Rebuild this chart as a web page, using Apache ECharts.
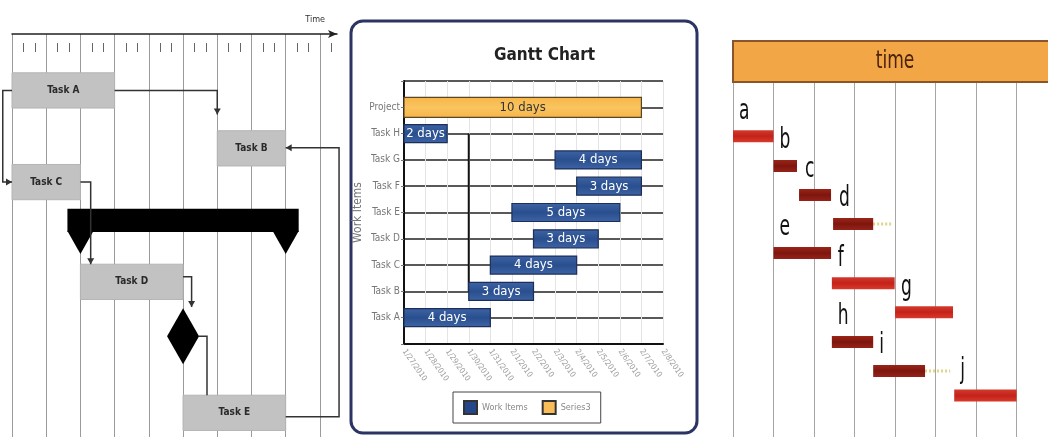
<!DOCTYPE html>
<html>
<head>
<meta charset="utf-8">
<script src="https://cdn.jsdelivr.net/npm/echarts@6/dist/echarts.min.js"></script>
<style>
  html, body { margin: 0; padding: 0; background: #fff; }
  #main { width: 1048px; height: 437px; }
</style>
</head>
<body>
<div id="main"></div>
<script>
// ---- panel 1 : task network over time ----
const flowTasks = ['Task A', 'Task B', 'Task C', 'Task D', 'Task E'];
const flowStart = [0, 6, 0, 2, 5];
const flowEnd = [3, 8, 2, 5, 8];
const flowRow = [5.6, 11.35, 14.7, 24.6, 37.6];
const summaryBar = [2, 8, 18.5];      // start, end, row
const decisionPoint = [5, 30.0];      // time, row
const flowLinks = [
  [[3, 5.6], [6, 5.6], [6, 8.0]],
  [[0, 5.6], [-0.27, 5.6], [-0.27, 14.7], [0, 14.7]],
  [[2, 14.7], [2.3, 14.7], [2.3, 22.85]],
  [[5, 24.1], [5.25, 24.1], [5.25, 27.1]],
  [[5.46, 30.0], [5.7, 30.0], [5.7, 35.85]],
  [[8, 38.0], [9.56, 38.0], [9.56, 11.3], [8, 11.3]]
];
const flowLinkArrow = [true, true, true, true, false, true];

// ---- panel 2 : gantt chart ----
const ganttItems = ['Task A', 'Task B', 'Task C', 'Task D', 'Task E', 'Task F', 'Task G', 'Task H', 'Project'];
const ganttStart = [0, 3, 4, 6, 5, 8, 7, 0, 0];
const ganttDays = [4, 3, 4, 3, 5, 3, 4, 2, 11];
const ganttLabels = ['4 days', '3 days', '4 days', '3 days', '5 days', '3 days', '4 days', '2 days', '10 days'];
const dateTicks = ['1/27/2010', '1/28/2010', '1/29/2010', '1/30/2010', '1/31/2010', '2/1/2010', '2/2/2010',
  '2/3/2010', '2/4/2010', '2/5/2010', '2/6/2010', '2/7/2010', '2/8/2010'];
const hLink = [[3, 8], [3, 2]];

// ---- panel 3 : activities a..j ----
const actNames = ['a', 'b', 'c', 'd', 'e', 'f', 'g', 'h', 'i', 'j'];
const actStart = [0, 1, 1.63, 2.47, 1, 2.44, 4, 2.44, 3.46, 5.46];
const actEnd = [1, 1.58, 2.42, 3.46, 2.42, 3.99, 5.43, 3.46, 4.74, 7.0];
const actFloatEnd = [0, 0, 0, 3.95, 0, 0, 0, 0, 5.36, 0];
const actRow = [1.83, 2.84, 3.82, 4.8, 5.78, 6.8, 7.78, 8.79, 9.77, 10.6];
const actCritical = [true, false, false, false, false, true, true, false, false, true];

const NARROW = "'Liberation Sans Narrow','DejaVu Sans Condensed','Arial Narrow',sans-serif";

const chart = echarts.init(document.getElementById('main'), null, { renderer: 'canvas' });

function arrowHead(a, b, len, half) {
  const dx = b[0] - a[0], dy = b[1] - a[1];
  const d = Math.sqrt(dx * dx + dy * dy) || 1;
  const ux = dx / d, uy = dy / d;
  return [
    [b[0], b[1]],
    [b[0] - ux * len - uy * half, b[1] - uy * len + ux * half],
    [b[0] - ux * len + uy * half, b[1] - uy * len - ux * half]
  ];
}

function flowBoxItem(params, api) {
  const i = params.dataIndex;
  const p0 = api.coord([flowStart[i], flowRow[i]]);
  const p1 = api.coord([flowEnd[i], flowRow[i]]);
  const h = api.size([0, 3.5])[1];
  return {
    type: 'group',
    children: [
      { type: 'rect', shape: { x: p0[0], y: p0[1] - h / 2, width: p1[0] - p0[0], height: h },
        style: { fill: '#c2c2c2', stroke: '#b4b4b4', lineWidth: 1 } },
      { type: 'text', style: { text: flowTasks[i], x: (p0[0] + p1[0]) / 2, y: p0[1], align: 'center',
        verticalAlign: 'middle', font: 'bold 10px ' + NARROW, fill: '#2a2a2a' } }
    ]
  };
}

function summaryItem(params, api) {
  const p0 = api.coord([summaryBar[0], summaryBar[2]]);
  const p1 = api.coord([summaryBar[1], summaryBar[2]]);
  const h = api.size([0, 2.3])[1];
  const top = p0[1] - h / 2, bot = p0[1] + h / 2;
  const c = api.coord(decisionPoint);
  const style = { fill: '#000' };
  return {
    type: 'group',
    children: [
      { type: 'rect', shape: { x: p0[0] - 13, y: top, width: p1[0] - p0[0] + 26, height: h }, style },
      { type: 'polygon', shape: { points: [[p0[0] - 13, bot - 1], [p0[0] + 13, bot - 1], [p0[0], bot + 22]] }, style },
      { type: 'polygon', shape: { points: [[p1[0] - 13, bot - 1], [p1[0] + 13, bot - 1], [p1[0], bot + 22]] }, style },
      { type: 'polygon', shape: { points: [[c[0], c[1] - 28], [c[0] + 16, c[1]], [c[0], c[1] + 28], [c[0] - 16, c[1]]] }, style }
    ]
  };
}

function linkItem(params, api) {
  const i = params.dataIndex;
  const pts = flowLinks[i].map(p => api.coord(p));
  const children = [
    { type: 'polyline', shape: { points: pts }, style: { stroke: '#333', lineWidth: 1.5, fill: null } }
  ];
  if (flowLinkArrow[i]) {
    children.push({ type: 'polygon', shape: { points: arrowHead(pts[pts.length - 2], pts[pts.length - 1], 6, 3.5) },
      style: { fill: '#333' } });
  }
  return { type: 'group', children };
}

function ganttRender(fillTop, fillBot, stroke, textColor, barH) {
  return function (params, api) {
    const i = api.value(3);
    const p0 = api.coord([api.value(0), api.value(2)]);
    const p1 = api.coord([api.value(1), api.value(2)]);
    return {
      type: 'group',
      children: [
        { type: 'rect', shape: { x: p0[0], y: p0[1] - barH / 2, width: p1[0] - p0[0], height: barH },
          style: { fill: new echarts.graphic.LinearGradient(0, 0, 0, 1, [
            { offset: 0, color: fillTop }, { offset: 0.5, color: fillBot }, { offset: 1, color: fillTop }]),
            stroke, lineWidth: 1.2 } },
        { type: 'text', style: { text: ganttLabels[i], x: (p0[0] + p1[0]) / 2, y: p0[1], align: 'center',
          verticalAlign: 'middle', font: '13px ' + NARROW, fill: textColor } }
      ]
    };
  };
}

function activityItem(params, api) {
  const i = params.dataIndex;
  const p0 = api.coord([actStart[i], actRow[i]]);
  const p1 = api.coord([actEnd[i], actRow[i]]);
  const h = 12;
  const children = [];
  if (actFloatEnd[i] > actEnd[i]) {
    const p2 = api.coord([actFloatEnd[i], actRow[i]]);
    children.push({ type: 'line', shape: { x1: p1[0], y1: p1[1], x2: p2[0], y2: p2[1] },
      style: { stroke: '#e2d489', lineWidth: 3, lineDash: [2, 2] } });
  }
  const crit = actCritical[i];
  children.push({ type: 'rect', shape: { x: p0[0], y: p0[1] - h / 2, width: p1[0] - p0[0], height: h },
    style: { fill: new echarts.graphic.LinearGradient(0, 0, 0, 1, [
      { offset: 0, color: crit ? '#d23a2c' : '#9a2418' }, { offset: 0.5, color: crit ? '#c4221a' : '#7e160e' },
      { offset: 1, color: crit ? '#d83a2a' : '#96221a' }]) } });
  children.push({ type: 'text', x: p0[0] + 6, y: p0[1] - h / 2 - 5, scaleY: 1.45,
    style: { text: actNames[i], x: 0, y: 0, align: 'left', verticalAlign: 'bottom',
      font: '19px ' + NARROW, fill: '#111' } });
  return { type: 'group', children };
}

const option = {
  animation: false,
  backgroundColor: '#fff',
  title: {
    text: 'Gantt Chart', left: 489, top: 42,
    textStyle: { fontSize: 17, fontWeight: 'bold', color: '#222', fontFamily: NARROW }
  },
  legend: {
    data: ['Work Items', 'Series3'],
    left: 453, top: 392, orient: 'horizontal',
    borderColor: '#444', borderWidth: 1, padding: [8, 10],
    itemWidth: 13, itemHeight: 13, itemGap: 14, icon: 'rect',
    textStyle: { fontSize: 9, color: '#888', fontFamily: NARROW }
  },
  graphic: [
    { type: 'rect', z: -10, shape: { x: 351, y: 21, width: 346, height: 412, r: 12 },
      style: { fill: '#fff', stroke: '#2c3463', lineWidth: 3 } },
    { type: 'rect', z: 10, shape: { x: 733, y: 41, width: 320, height: 41 },
      style: { fill: '#f2a646', stroke: '#8a5529', lineWidth: 2 } },
    { type: 'text', z: 11, x: 895, y: 62, scaleY: 1.3,
      style: { text: 'time', align: 'center', verticalAlign: 'middle', font: '19px ' + NARROW, fill: '#4a220e' } }
  ],
  grid: [
    { left: 12, top: 34, width: 325, height: 403, outerBoundsMode: 'none' },
    { left: 404, top: 81, width: 259, height: 263, outerBoundsMode: 'none' },
    { left: 733, top: 82, width: 314, height: 355, outerBoundsMode: 'none' }
  ],
  xAxis: [
    { gridIndex: 0, type: 'value', position: 'top', min: 0, max: 9.5, interval: 1,
      name: 'Time', nameLocation: 'end', nameGap: -12,
      nameTextStyle: { align: 'right', verticalAlign: 'bottom', padding: [0, 0, 10, 0], fontSize: 9, color: '#333', fontFamily: NARROW },
      axisLine: { show: true, symbol: ['none', 'arrow'], symbolSize: [6, 9], lineStyle: { color: '#222', width: 1.5 } },
      axisTick: { show: false }, axisLabel: { show: false },
      splitLine: { show: true, showMaxLine: false, lineStyle: { color: '#9a9a9a', width: 1 } } },
    { gridIndex: 0, type: 'value', position: 'top', offset: -18, min: 0, max: 9.5, interval: 1,
      axisLine: { show: false }, axisTick: { show: false }, axisLabel: { show: false }, splitLine: { show: false },
      minorTick: { show: true, splitNumber: 3, length: 9, lineStyle: { color: '#666', width: 1 } } },
    { gridIndex: 1, type: 'value', min: 0, max: 12, interval: 1,
      axisLine: { show: true, lineStyle: { color: '#111', width: 2 } },
      axisTick: { show: false },
      axisLabel: { show: true, rotate: -55, fontSize: 8, color: '#a0a0a0', margin: 6, fontFamily: NARROW,
        formatter: v => dateTicks[Math.round(v)] || '' },
      splitLine: { show: true, lineStyle: { color: '#e4e4e4', width: 1 } } },
    { gridIndex: 2, type: 'value', min: 0, max: 7.75, interval: 1,
      axisLine: { show: false }, axisTick: { show: false }, axisLabel: { show: false },
      splitLine: { show: true, showMaxLine: false, lineStyle: { color: '#a5a5a5', width: 1 } } }
  ],
  yAxis: [
    { gridIndex: 0, type: 'value', min: 0, max: 40, inverse: true, show: false },
    { gridIndex: 1, type: 'value', min: 0, max: 10, interval: 1,
      name: 'Work Items', nameLocation: 'middle', nameGap: 40, nameRotate: 90,
      nameTextStyle: { fontSize: 12, color: '#777', fontFamily: NARROW },
      axisLine: { show: true, lineStyle: { color: '#111', width: 2 } },
      axisTick: { show: true, length: 3, lineStyle: { color: '#777' } },
      axisLabel: { fontSize: 10, color: '#777', margin: 4, fontFamily: NARROW,
        formatter: v => ganttItems[Math.round(v) - 1] || '' },
      splitLine: { show: true, lineStyle: { color: '#222', width: 1.5 } } },
    { gridIndex: 2, type: 'value', min: 0, max: 12, inverse: true, show: false }
  ],
  series: [
    { type: 'custom', name: 'tasks', xAxisIndex: 0, yAxisIndex: 0, renderItem: flowBoxItem,
      encode: { x: [0, 1], y: 2 }, z: 3,
      data: flowTasks.map((t, i) => [flowStart[i], flowEnd[i], flowRow[i]]) },
    { type: 'custom', name: 'summary', xAxisIndex: 0, yAxisIndex: 0, renderItem: summaryItem,
      encode: { x: [0, 1], y: 2 }, z: 3,
      data: [[summaryBar[0], summaryBar[1], summaryBar[2]]] },
    { type: 'custom', name: 'links', xAxisIndex: 0, yAxisIndex: 0, renderItem: linkItem, clip: false, z: 4,
      encode: { x: 0, y: 1 },
      data: flowLinks.map(l => [l[0][0], l[0][1]]) },
    { type: 'line', name: 'dependency', xAxisIndex: 2, yAxisIndex: 1, data: hLink, symbol: 'none', z: 3,
      lineStyle: { color: '#111', width: 2 } },
    { type: 'custom', name: 'Work Items', xAxisIndex: 2, yAxisIndex: 1, z: 4,
      itemStyle: { color: '#25468a', borderColor: '#333', borderWidth: 1 },
      renderItem: ganttRender('#3f64a6', '#2a4f8e', '#1b2f58', '#fff', 18),
      encode: { x: [0, 1], y: 2 },
      data: ganttItems.slice(0, 8).map((n, i) => [ganttStart[i], ganttStart[i] + ganttDays[i], i + 1, i]) },
    { type: 'custom', name: 'Series3', xAxisIndex: 2, yAxisIndex: 1, z: 4,
      itemStyle: { color: '#f8bd56', borderColor: '#333', borderWidth: 1 },
      renderItem: ganttRender('#f6b548', '#fac460', '#5a4525', '#333', 20),
      encode: { x: [0, 1], y: 2 },
      data: [[ganttStart[8], ganttStart[8] + ganttDays[8], 9, 8]] },
    { type: 'custom', name: 'activities', xAxisIndex: 3, yAxisIndex: 2, renderItem: activityItem, z: 4,
      encode: { x: [0, 1], y: 2 },
      data: actNames.map((n, i) => [actStart[i], actEnd[i], actRow[i]]) }
  ]
};

chart.setOption(option);
</script>
</body>
</html>
